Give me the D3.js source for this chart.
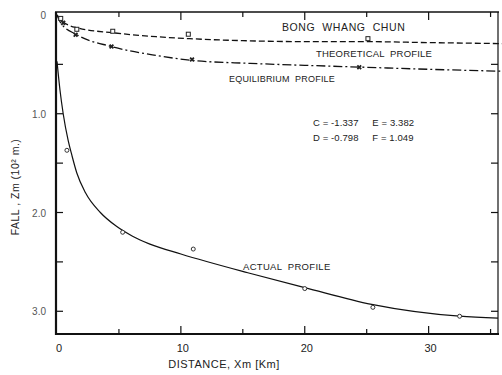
<!DOCTYPE html>
<html>
<head>
<meta charset="utf-8">
<script src="https://cdn.jsdelivr.net/npm/d3@7"></script>
<style>
body { margin: 0; background: #fff; }
text { font-family: "Liberation Sans", Arial, sans-serif; fill: #222; white-space: pre; }
</style>
</head>
<body>
<svg id="fig" width="502" height="375"></svg>
<script>
// data (distance in km, fall in 10^2 m)
const theoX = [0, 0.3, 1.6, 4.5, 8, 10.7, 15, 20, 25, 30, 36];
const theoY = [0, 0.05, 0.13, 0.18, 0.22, 0.24, 0.26, 0.27, 0.27, 0.28, 0.29];
const theoMarkX = [0.3, 1.6, 4.5, 10.6, 25.1];
const theoMarkY = [0.04, 0.15, 0.17, 0.2, 0.245];

const equiX = [0, 0.3, 1.6, 4.4, 8, 10.9, 15.6, 20, 25, 30, 36];
const equiY = [0, 0.08, 0.2, 0.32, 0.41, 0.46, 0.49, 0.51, 0.53, 0.55, 0.57];
const equiMarkX = [0.5, 1.5, 4.4, 10.9, 24.4];
const equiMarkY = [0.08, 0.2, 0.32, 0.45, 0.53];

const actX = [0, 0.24, 0.5, 0.9, 1.2, 1.6, 2.3, 3.5, 4.8, 6.1, 7.5, 10, 15.4, 20, 25.4, 32.5, 35.6];
const actY = [0.47, 0.76, 1.0, 1.27, 1.42, 1.6, 1.8, 2.0, 2.14, 2.24, 2.32, 2.42, 2.61, 2.76, 2.93, 3.05, 3.07];
const actMarkX = [0.8, 5.3, 11, 20, 25.5, 32.5];
const actMarkY = [1.37, 2.2, 2.37, 2.77, 2.96, 3.05];

const xTickVals = [0, 10, 20, 30];
const xTickLabels = ["0", "10", "20", "30"];
const yTickVals = [0, 1, 2, 3];
const yTickLabels = ["0", "1.0", "2.0", "3.0"];

const Fig = d3.select("#fig");

const xScale = d3.scaleLinear().domain([0, 35.6]).range([57, 498]);
const yScale = d3.scaleLinear().domain([-0.03, 3.23]).range([12, 334]);

const line = d3.line()
.x(d => xScale(d[0]))
.y(d => yScale(d[1]))
.curve(d3.curveMonotoneX);

// frame: heavy left and bottom axes, lighter top and right
Fig.append("line").attr("x1", 56).attr("x2", 56).attr("y1", 12).attr("y2", 335)
.attr("stroke", "#111").attr("stroke-width", 2.2);
Fig.append("line").attr("x1", 55).attr("x2", 499).attr("y1", 334).attr("y2", 334)
.attr("stroke", "#111").attr("stroke-width", 2);
Fig.append("line").attr("x1", 55).attr("x2", 499).attr("y1", 12).attr("y2", 12)
.attr("stroke", "#111").attr("stroke-width", 1.6);
Fig.append("line").attr("x1", 498).attr("x2", 498).attr("y1", 12).attr("y2", 334)
.attr("stroke", "#111").attr("stroke-width", 1.2);

// tick marks inside the frame
const minorX = d3.range(5, 36, 5);
const minorY = d3.range(0.5, 3.1, 0.5);

Fig.append("g").selectAll("line").data(minorX).join("line")
.attr("x1", d => xScale(d)).attr("x2", d => xScale(d))
.attr("y1", 334).attr("y2", d => d % 10 === 0 ? 326 : 329)
.attr("stroke", "#111").attr("stroke-width", 1.2);
Fig.append("g").selectAll("line").data(minorX).join("line")
.attr("x1", d => xScale(d)).attr("x2", d => xScale(d))
.attr("y1", 12).attr("y2", d => d % 10 === 0 ? 20 : 17)
.attr("stroke", "#111").attr("stroke-width", 1.2);
Fig.append("g").selectAll("line").data(minorY).join("line")
.attr("x1", 56).attr("x2", 63)
.attr("y1", d => yScale(d)).attr("y2", d => yScale(d))
.attr("stroke", "#111").attr("stroke-width", 1.2);
Fig.append("g").selectAll("line").data(minorY).join("line")
.attr("x1", 498).attr("x2", 491)
.attr("y1", d => yScale(d)).attr("y2", d => yScale(d))
.attr("stroke", "#111").attr("stroke-width", 1.2);

// tick labels
Fig.append("g").selectAll("text").data(xTickVals).join("text")
.attr("x", d => xScale(d) + 2).attr("y", 352)
.attr("text-anchor", "middle")
.style("font-size", "11px")
.text((d, i) => xTickLabels[i]);
Fig.append("g").selectAll("text").data(yTickVals).join("text")
.attr("x", 46).attr("y", d => yScale(d) + 4)
.attr("text-anchor", "end")
.style("font-size", "10px")
.style("fill", "#555")
.text((d, i) => yTickLabels[i]);

// axis labels
Fig.append("text")
.attr("x", 224).attr("y", 368)
.attr("text-anchor", "middle")
.style("font-size", "11px")
.style("letter-spacing", "0.5px")
.text("DISTANCE, Xm [Km]");

Fig.append("text")
.attr("transform", "rotate(-90)")
.attr("x", -187).attr("y", 19)
.attr("text-anchor", "middle")
.style("font-size", "10.5px")
.style("letter-spacing", "0.5px")
.text("FALL , Zm (10\u00b2 m.)");

// curves
Fig.append("path")
.attr("d", line(theoX.map((x, i) => [x, theoY[i]])))
.attr("fill", "none").attr("stroke", "#111").attr("stroke-width", 1.3)
.attr("stroke-dasharray", "6,3");
Fig.append("path")
.attr("d", line(equiX.map((x, i) => [x, equiY[i]])))
.attr("fill", "none").attr("stroke", "#111").attr("stroke-width", 1.3)
.attr("stroke-dasharray", "9,3,2,3");
Fig.append("path")
.attr("d", line(actX.map((x, i) => [x, actY[i]])))
.attr("fill", "none").attr("stroke", "#111").attr("stroke-width", 1.2);

// markers
Fig.append("g").selectAll("rect").data(theoMarkX).join("rect")
.attr("x", d => xScale(d) - 2).attr("y", (d, i) => yScale(theoMarkY[i]) - 2.5)
.attr("width", 4).attr("height", 4)
.attr("fill", "#fff").attr("stroke", "#222").attr("stroke-width", 1);

Fig.append("g").selectAll("path").data(equiMarkX).join("path")
.attr("d", d3.symbol(d3.symbolCross, 16)())
.attr("transform", (d, i) => `translate(${xScale(d)},${yScale(equiMarkY[i])}) rotate(45)`)
.attr("fill", "#222");

Fig.append("g").selectAll("circle").data(actMarkX).join("circle")
.attr("cx", d => xScale(d)).attr("cy", (d, i) => yScale(actMarkY[i]))
.attr("r", 2)
.attr("fill", "#fff").attr("stroke", "#333").attr("stroke-width", 1);

// annotations
const notes = [
  ["BONG  WHANG  CHUN", 282, 31, 10.5, 0.6],
  ["THEORETICAL  PROFILE", 316, 57, 9.5, 0.2],
  ["EQUILIBRIUM  PROFILE", 229, 82, 9, 0.2],
  ["ACTUAL  PROFILE", 243, 270, 9.5, 0.3],
  ["C = -1.337     E = 3.382", 313, 126, 9.5, 0.1],
  ["D = -0.798     F = 1.049", 313, 141, 9.5, 0.1]
];
Fig.append("g").selectAll("text").data(notes).join("text")
.attr("x", d => d[1]).attr("y", d => d[2])
.style("font-size", d => d[3] + "px")
.style("letter-spacing", d => d[4] + "px")
.text(d => d[0]);
</script>
</body>
</html>
